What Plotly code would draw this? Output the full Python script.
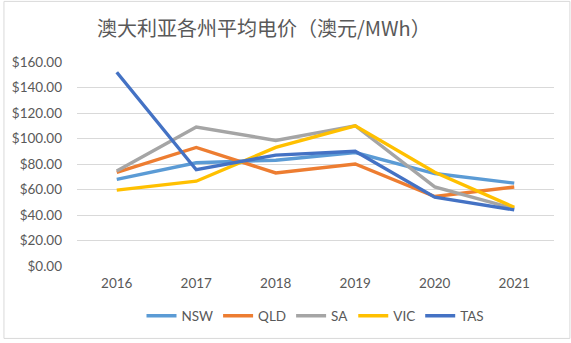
import plotly.graph_objects as go

years = ["2016", "2017", "2018", "2019", "2020", "2021"]
nsw = [68, 81, 83, 89, 72.5, 65]
qld = [73.5, 93, 73, 80, 54.5, 62]
sa = [74.5, 109, 98.5, 110, 62, 45]
vic = [59.5, 66.5, 93, 110, 73.5, 46]
tas = [152, 75.5, 87, 90, 54, 44]

series = [("NSW", nsw, "#5B9BD5"), ("QLD", qld, "#ED7D31"), ("SA", sa, "#A5A5A5"),
          ("VIC", vic, "#FFC000"), ("TAS", tas, "#4472C4")]

fig = go.Figure()
for name, vals, color in series:
    fig.add_trace(go.Scatter(x=years, y=vals, name=name, mode="lines",
                             line=dict(color=color, width=3.4)))

fig.update_layout(
    width=571, height=343,
    margin=dict(l=74, r=17, t=62, b=74),
    paper_bgcolor="white", plot_bgcolor="white",
    font=dict(family="Lato, 'Noto Sans CJK SC', sans-serif", size=13.5, color="#595959"),
    title=dict(text="澳大利亚各州平均电价（澳元/MWh）", x=0.462, xanchor="center",
               y=0.915, yanchor="middle",
               font=dict(family="'Noto Sans CJK SC', sans-serif", size=20, color="#595959")),
    showlegend=True,
    legend=dict(orientation="h", x=0.5, xanchor="center", y=-0.245, yanchor="middle",
                font=dict(size=13.5, color="#595959"), itemwidth=30, tracegroupgap=0),
    xaxis=dict(showgrid=False, showline=False, ticks="", ticklabelstandoff=7,
               range=[-0.5, 5.5], fixedrange=True),
    yaxis=dict(range=[0, 160], dtick=20, tickformat="$,.2f", showgrid=True,
               gridcolor="#D9D9D9", gridwidth=1, zeroline=False, showline=False,
               ticklabelstandoff=14),
    shapes=[dict(type="rect", xref="paper", yref="paper",
                 x0=-74/480 + 0.5/480, x1=1 + 17/480 - 1/480,
                 y0=-74/207 + 0.5/207, y1=1 + 62/207 - 0.5/207,
                 line=dict(color="#D9D9D9", width=1), layer="below")],
)

fig.write_html("out.html")
